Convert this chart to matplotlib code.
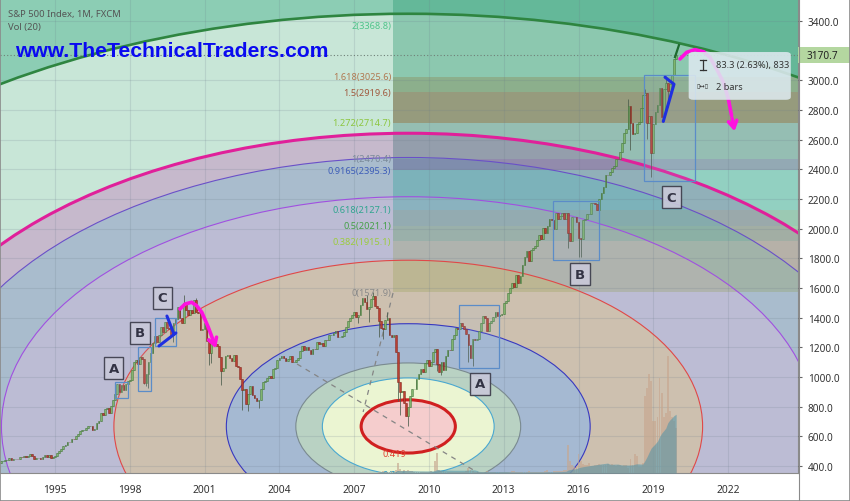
import matplotlib
matplotlib.use('Agg')
from matplotlib import pyplot as plt
from matplotlib.patches import Ellipse, Rectangle, FancyBboxPatch
from matplotlib.lines import Line2D
from matplotlib.transforms import blended_transform_factory
import pandas as pd

# monthly S&P 500 closes, first bar Nov 1992
FIRST_MONTH = '1992-11'
FIRST_OPEN = 418.7
CLOSES = [
    431.35, 435.71,
    438.78, 443.38, 451.67, 440.19, 450.19, 450.53, 448.13, 463.56, 458.93, 467.83, 461.79, 466.45,
    481.61, 467.14, 445.77, 450.91, 456.50, 444.27, 458.26, 475.49, 462.69, 472.35, 453.69, 459.27,
    470.42, 487.39, 500.71, 514.71, 533.40, 544.75, 562.06, 561.88, 584.41, 581.50, 605.37, 615.93,
    636.02, 640.43, 645.50, 654.17, 669.12, 670.63, 639.95, 651.99, 687.31, 705.27, 757.02, 740.74,
    786.16, 790.82, 757.12, 801.34, 848.28, 885.14, 954.29, 899.47, 947.28, 914.62, 955.40, 970.43,
    980.28, 1049.34, 1101.75, 1111.75, 1090.82, 1133.84, 1120.67, 957.28, 1017.01, 1098.67, 1163.63, 1229.23,
    1279.64, 1238.33, 1286.37, 1335.18, 1301.84, 1372.71, 1328.72, 1320.41, 1282.71, 1362.93, 1388.91, 1469.25,
    1394.46, 1366.42, 1498.58, 1452.43, 1420.60, 1454.60, 1430.83, 1517.68, 1436.51, 1429.40, 1314.95, 1320.28,
    1366.01, 1239.94, 1160.33, 1249.46, 1255.82, 1224.38, 1211.23, 1133.58, 1040.94, 1059.78, 1139.45, 1148.08,
    1130.20, 1106.73, 1147.39, 1076.92, 1067.14, 989.82, 911.62, 916.07, 815.28, 885.76, 936.31, 879.82,
    855.70, 841.15, 848.18, 916.92, 963.59, 974.50, 990.31, 1008.01, 995.97, 1050.71, 1058.20, 1111.92,
    1131.13, 1144.94, 1126.21, 1107.30, 1120.68, 1140.84, 1101.72, 1104.24, 1114.58, 1130.20, 1173.82, 1211.92,
    1181.27, 1203.60, 1180.59, 1156.85, 1191.50, 1191.33, 1234.18, 1220.33, 1228.81, 1207.01, 1249.48, 1248.29,
    1280.08, 1280.66, 1294.83, 1310.61, 1270.09, 1270.20, 1276.66, 1303.82, 1335.85, 1377.94, 1400.63, 1418.30,
    1438.24, 1406.82, 1420.86, 1482.37, 1530.62, 1503.35, 1455.27, 1473.99, 1526.75, 1549.38, 1481.14, 1468.36,
    1378.55, 1330.63, 1322.70, 1385.59, 1400.38, 1280.00, 1267.38, 1282.83, 1166.36, 968.75, 896.24, 903.25,
    825.88, 735.09, 797.87, 872.81, 919.14, 919.32, 987.48, 1020.62, 1057.08, 1036.19, 1095.63, 1115.10,
    1073.87, 1104.49, 1169.43, 1186.69, 1089.41, 1030.71, 1101.60, 1049.33, 1141.20, 1183.26, 1180.55, 1257.64,
    1286.12, 1327.22, 1325.83, 1363.61, 1345.20, 1320.64, 1292.28, 1218.89, 1131.42, 1253.30, 1246.96, 1257.60,
    1312.41, 1365.68, 1408.47, 1397.91, 1310.33, 1362.16, 1379.32, 1406.58, 1440.67, 1412.16, 1416.18, 1426.19,
    1498.11, 1514.68, 1569.19, 1597.57, 1630.74, 1606.28, 1685.73, 1632.97, 1681.55, 1756.54, 1805.81, 1848.36,
    1782.59, 1859.45, 1872.34, 1883.95, 1923.57, 1960.23, 1930.67, 2003.37, 1972.29, 2018.05, 2067.56, 2058.90,
    1994.99, 2104.50, 2067.89, 2085.51, 2107.39, 2063.11, 2103.84, 1972.18, 1920.03, 2079.36, 2080.41, 2043.94,
    1940.24, 1932.23, 2059.74, 2065.30, 2096.95, 2098.86, 2173.60, 2170.95, 2168.27, 2126.15, 2198.81, 2238.83,
    2278.87, 2363.64, 2362.72, 2384.20, 2411.80, 2423.41, 2470.30, 2471.65, 2519.36, 2575.26, 2647.58, 2673.61,
    2823.81, 2713.83, 2640.87, 2648.05, 2705.27, 2718.37, 2816.29, 2901.52, 2913.98, 2711.74, 2760.17, 2506.85,
    2704.10, 2784.49, 2834.40, 2945.83, 2752.06, 2941.76, 2980.38, 2926.46, 2976.74, 3037.56, 3140.98, 3170.70,
]
# wick extremes for the months where they stand out
LOWS = {
    '1998-08': 953.0, '1998-09': 940.0, '1998-10': 923.3, '1999-10': 1233.7,
    '2001-03': 1081.2, '2001-04': 1092.0, '2001-09': 944.8, '2002-07': 775.7,
    '2002-10': 768.6, '2003-03': 788.9, '2007-03': 1364.0, '2007-08': 1370.6,
    '2008-01': 1270.0, '2008-03': 1257.0, '2008-10': 839.8, '2008-11': 741.0,
    '2009-03': 666.8, '2010-05': 1040.8, '2010-07': 1010.9, '2011-08': 1101.5,
    '2011-10': 1074.8, '2015-08': 1867.0, '2016-01': 1812.3, '2016-02': 1810.1,
    '2018-02': 2532.7, '2018-10': 2603.5, '2018-12': 2346.6, '2019-05': 2750.5,
    '2019-06': 2728.8, '2019-08': 2822.1,
}
HIGHS = {
    '2000-01': 1478.0, '2000-03': 1552.9, '2000-09': 1530.1, '2007-07': 1555.9,
    '2007-10': 1576.1, '2008-05': 1440.2, '2018-01': 2872.9, '2018-09': 2940.9,
    '2019-04': 2949.5, '2019-07': 3028.0,
}
LAST_PRICE = 3170.7

# volume (FXCM), monthly from Jan 2008
VOL_FIRST_MONTH = '2008-01'
VOLUMES = [
    10, 10, 20, 10, 10, 10, 20, 10, 30, 100, 40, 20,
    30, 20, 30, 20, 20, 10, 10, 10, 10, 10, 10, 10,
    10, 20, 10, 120, 200, 30, 20, 20, 10, 10, 10, 10,
    10, 10, 10, 10, 10, 10, 20, 50, 30, 20, 10, 10,
    10, 10, 10, 10, 20, 10, 10, 10, 10, 10, 10, 10,
    10, 10, 10, 10, 20, 20, 10, 10, 10, 10, 10, 10,
    20, 10, 10, 10, 10, 10, 10, 10, 20, 30, 10, 10,
    20, 20, 20, 20, 20, 30, 30, 280, 120, 80, 60, 70,
    190, 120, 90, 80, 80, 100, 70, 70, 80, 80, 90, 80,
    80, 80, 90, 80, 90, 80, 70, 80, 80, 70, 80, 80,
    50, 140, 80, 190, 170, 60, 60, 100, 770, 850, 990, 920,
    520, 520, 560, 950, 800, 560, 600, 1170, 620, 560, 520, 450,
]

# fib circles around the 2009 low
CIRCLE_CENTER = (2009.17, 666.8)
CIRCLE_RX = 4.51      # years at level 1
CIRCLE_RY = 428.0     # points at level 1
CIRCLE_LEVELS = [6.5, 4.618, 4.236, 3.618, 2.618, 1.618, 1.0, 0.764, 0.419]
CIRCLE_FILLS = ['#c8e6d7', '#c6b9cc', '#a9bccd', '#bcbcd4', '#cdc0af',
                '#a5b9d2', '#b9d2c3', '#ebf5d2', '#f5cdcd']
CIRCLE_EDGES = ['#2e8540', '#e0209a', '#6a50c8', '#a050e0', '#e04848',
                '#3838c0', '#7a8a90', '#4aa8d0', '#d02020']
CIRCLE_WIDTHS = [1.9, 2.2, 0.8, 0.8, 0.8, 0.8, 0.8, 0.8, 2.2]
OUTSIDE_FILL = '#8ccdb4'

# fib extension levels
FIB_START = 2008.56
FIB_LABELS = ['0(1571.9)', '0.382(1915.1)', '0.5(2021.1)', '0.618(2127.1)',
              '0.9165(2395.3)', '1(2470.4)', '1.272(2714.7)', '1.5(2919.6)',
              '1.618(3025.6)', '2(3368.8)']
FIB_PRICES = [1571.9, 1915.1, 2021.1, 2127.1, 2395.3, 2470.4, 2714.7,
              2919.6, 3025.6, 3368.8]
FIB_TEXT_COLORS = ['#8a8a8a', '#9ccc3c', '#43a047', '#2fa58f', '#3d5db8',
                   '#7a8a9a', '#8cc63f', '#a0583c', '#b07850', '#4fc48a']
FIB_BAND_COLORS = ['#8a9a40', '#248818', '#298058', '#179e8f', '#323773',
                   '#216262', '#5a4010', '#1d4901', '#1d9065', '#1c9268']
FIB_BAND_ALPHAS = [0.25, 0.22, 0.28, 0.3, 0.35, 0.3, 0.45, 0.35, 0.35, 0.35]

# wave markup
WAVE_BOXES = [(1997.41, 1997.93, 858, 966), (1998.33, 1998.85, 906, 1202),
              (1999.01, 1999.85, 1209, 1398), (2011.21, 2012.81, 1061, 1485),
              (2014.98, 2016.82, 1789, 2187), (2018.63, 2020.67, 2321, 3036)]
WAVE_LETTERS = ['A', 'B', 'C', 'A', 'B', 'C']
LETTER_X = [1997.35, 1998.41, 1999.31, 2012.05, 2016.06, 2019.73]
LETTER_Y = [1060, 1297, 1533, 953, 1694, 2213]

BLUE_STROKES = [
    ([1999.49, 1999.77], [1411, 1290]),
    ([1999.17, 1999.85], [1209, 1297]),
    ([2019.47, 2019.83, 2019.40], [3021, 2974, 2723]),
]
MAGENTA_PATHS = [
    ([2000.01, 2000.22, 2000.48, 2000.68, 2000.89, 2001.15, 2001.35, 2001.49],
     [1458, 1492, 1504, 1481, 1436, 1335, 1245, 1175]),
    ([2020.07, 2020.34, 2020.67, 2021.01, 2021.27, 2021.54, 2021.81, 2022.01,
      2022.14, 2022.28],
     [3144, 3189, 3207, 3193, 3155, 3076, 2987, 2874, 2762, 2638]),
]
MEASURE_LINE = ([2019.87, 2020.03], [3157, 3238])
DASHED_LINES = [([2004.71, 2012.45], [1087.6, 305.6]),
                ([2008.56, 2007.36], [1566.3, 764.0])]

YEAR_TICKS = list(range(1995, 2023, 3))
PRICE_TICKS = list(range(400, 3001, 200)) + [3400]

UI_FONT = 'Noto Sans'
TEXT_GREY = '#333333'


def to_year(stamps):
    return stamps.year + (stamps.month - 1) / 12.0


dates = pd.date_range(FIRST_MONTH, periods=len(CLOSES), freq='MS')
t = to_year(dates)
closes = pd.Series(CLOSES, index=dates)
opens = closes.shift(1).fillna(FIRST_OPEN)
keys = dates.strftime('%Y-%m')
highs = [max(o, c, HIGHS.get(k, 0)) for o, c, k in zip(opens, closes, keys)]
lows = [min(o, c, LOWS.get(k, 1e9)) for o, c, k in zip(opens, closes, keys)]
up = (closes >= opens).values

vol_dates = pd.date_range(VOL_FIRST_MONTH, periods=len(VOLUMES), freq='MS')
vt = to_year(vol_dates)
vol_ma = pd.Series(VOLUMES).rolling(20, min_periods=1).mean()

fig = plt.figure(figsize=(8.5, 5.02), dpi=100)
fig.patch.set_facecolor('white')
ax = fig.add_axes([0, 28 / 502, 798 / 850, 473 / 502])
ax.set_xlim(1992.794, 2024.804)
ax.set_ylim(352.8, 3541.6)
ax.set_facecolor(OUTSIDE_FILL)
ax.set_axisbelow(False)

cx, cy = CIRCLE_CENTER
for i, lvl in enumerate(CIRCLE_LEVELS):
    ax.add_patch(Ellipse((cx, cy), 2 * CIRCLE_RX * lvl, 2 * CIRCLE_RY * lvl,
                         facecolor=CIRCLE_FILLS[i], edgecolor='none',
                         zorder=1 + i * 0.01))
    ax.add_patch(Ellipse((cx, cy), 2 * CIRCLE_RX * lvl, 2 * CIRCLE_RY * lvl,
                         fill=False, edgecolor=CIRCLE_EDGES[i],
                         linewidth=CIRCLE_WIDTHS[i], zorder=2.8))

# horizontal fib bands (last one runs to the top of the chart)
band_tops = FIB_PRICES[1:] + [ax.get_ylim()[1]]
for lo, hi, col, a in zip(FIB_PRICES, band_tops, FIB_BAND_COLORS, FIB_BAND_ALPHAS):
    ax.add_patch(Rectangle((FIB_START, lo), 30, hi - lo, facecolor=col,
                           alpha=a, edgecolor='none', zorder=1.5))
for lab, p, col in zip(FIB_LABELS, FIB_PRICES, FIB_TEXT_COLORS):
    ax.text(FIB_START - 0.08, p, lab, ha='right', va='center', fontsize=6.6,
            color=col, family=UI_FONT, zorder=5)

for lvl, col in [(0.419, '#e04030'), (0.764, '#2090c0')]:
    ax.text(cx - 0.56, cy - CIRCLE_RY * lvl, str(lvl), ha='center',
            va='center', fontsize=6.6, color=col, family=UI_FONT, zorder=5,
            clip_on=True)

for xs, ys in DASHED_LINES:
    ax.plot(xs, ys, color='#858585', lw=0.9, dashes=(4, 4), zorder=2.9)

ax.grid(True, color='#6a7a8a', alpha=0.18, lw=0.8)

# candles
ax.vlines(t, lows, highs, color='#4d5d4d', lw=0.7, alpha=0.8, zorder=3)
ax.bar(t[up], (closes - opens)[up], bottom=opens[up], width=0.068,
       color='#86c070', edgecolor='#3b6e33', linewidth=0.4, alpha=0.85,
       zorder=3.1)
ax.bar(t[~up], (closes - opens)[~up], bottom=opens[~up], width=0.068,
       color='#c8382a', edgecolor='#7a1f17', linewidth=0.4, alpha=0.85,
       zorder=3.1)

ax.axhline(LAST_PRICE, color='#6f7f77', lw=0.8, ls=(0, (1, 2)), zorder=3.2)

for (x0, x1, p0, p1) in WAVE_BOXES:
    ax.add_patch(Rectangle((x0, p0), x1 - x0, p1 - p0, facecolor='#9fb8e0',
                           alpha=0.12, edgecolor='none', zorder=3.3))
    ax.add_patch(Rectangle((x0, p0), x1 - x0, p1 - p0, fill=False,
                           edgecolor='#5b8cc8', lw=0.9, zorder=3.3))
for letter, x, y in zip(WAVE_LETTERS, LETTER_X, LETTER_Y):
    ax.text(x, y, letter, ha='center', va='center', fontsize=9.5,
            fontweight='bold', color='#333344', zorder=5,
            bbox=dict(boxstyle='square,pad=0.36', facecolor='#c9c9d9',
                      edgecolor='#3a3a48', linewidth=1.0, alpha=0.9))

for xs, ys in BLUE_STROKES:
    ax.plot(xs, ys, color='#1f2fe0', lw=2.2, solid_capstyle='round', zorder=6)
ax.plot(*MEASURE_LINE, color='#1e6b30', lw=1.6, zorder=6)
for xs, ys in MAGENTA_PATHS:
    ax.plot(xs[:-1], ys[:-1], color='#ff10e0', lw=2.6, solid_capstyle='round',
            solid_joinstyle='round', zorder=6)
    ax.annotate('', xy=(xs[-1], ys[-1]), xytext=(xs[-2], ys[-2]),
                arrowprops=dict(arrowstyle='->,head_length=0.5,head_width=0.3',
                                color='#ff10e0', lw=2.6), zorder=6)

# volume overlay
vax = ax.twinx()
vax.set_ylim(0, 4730)
vax.bar(vt, VOLUMES, width=0.075, color='#c7a78f', alpha=0.65, zorder=2)
vax.fill_between(vt, 0, vol_ma, color='#4f93a8', alpha=0.55, lw=0, zorder=3)
vax.set_yticks([])
for s in vax.spines.values():
    s.set_visible(False)

# measurement tooltip
tip = FancyBboxPatch((0.863, 0.789), 0.128, 0.101,
                     boxstyle='round,pad=0,rounding_size=0.006',
                     transform=ax.transAxes, facecolor='#dde9ef',
                     edgecolor='none', alpha=0.88, zorder=7)
ax.add_patch(tip)
ax.plot([0.8808, 0.8808], [0.852, 0.873], color='#333', lw=0.9,
        transform=ax.transAxes, zorder=8)
for yy in (0.852, 0.873):
    ax.plot([0.8772, 0.8844], [yy, yy], color='#333', lw=0.9,
            transform=ax.transAxes, zorder=8)
ax.text(0.8808, 0.818, '▯↔▯', fontsize=4.5, ha='center', va='center',
        color='#333', transform=ax.transAxes, zorder=8)
ax.text(0.897, 0.8626, '83.3 (2.63%), 833', fontsize=6.6, va='center',
        color=TEXT_GREY, family=UI_FONT, transform=ax.transAxes, zorder=8)
ax.text(0.897, 0.818, '2 bars', fontsize=6.6, va='center', color=TEXT_GREY,
        family=UI_FONT, transform=ax.transAxes, zorder=8)

ax.text(0.0188, 0.894, 'www.TheTechnicalTraders.com', fontsize=15.2,
        fontweight='bold', family='Liberation Sans', color='#0a0af0',
        va='center', transform=ax.transAxes, zorder=8)
ax.text(0.01, 0.9725, 'S&P 500 Index, 1M, FXCM', fontsize=6.8,
        color='#555555', family=UI_FONT, va='center', transform=ax.transAxes,
        zorder=8)
ax.text(0.01, 0.945, 'Vol (20)', fontsize=6.8, color='#555555',
        family=UI_FONT, va='center', transform=ax.transAxes, zorder=8)

# axes styling
ax.yaxis.tick_right()
ax.set_yticks(PRICE_TICKS)
ax.set_yticklabels([f'{p:.1f}' for p in PRICE_TICKS])
ax.set_xticks(YEAR_TICKS)
ax.set_xticklabels([str(y) for y in YEAR_TICKS])
ax.tick_params(axis='y', length=3, color='#666', pad=4, labelsize=7.2,
               labelcolor=TEXT_GREY)
ax.tick_params(axis='x', length=0, pad=8, labelsize=7.4, labelcolor=TEXT_GREY)
for lab in ax.get_xticklabels() + ax.get_yticklabels():
    lab.set_family(UI_FONT)
for side in ('top', 'left'):
    ax.spines[side].set_visible(False)
for side in ('right', 'bottom'):
    ax.spines[side].set_color('#8a8a8a')

# last price marker on the scale
trans = blended_transform_factory(ax.transAxes, ax.transData)
ax.add_patch(Rectangle((1.0, LAST_PRICE - 54), 0.066, 108, transform=trans,
                       facecolor='#b4d7a0', edgecolor='none', clip_on=False,
                       zorder=8))
ax.text(1.0105, LAST_PRICE, f'{LAST_PRICE:.1f}', transform=trans,
        fontsize=7.2, va='center', color='#222', family=UI_FONT,
        clip_on=False, zorder=9)

fig.add_artist(Line2D([798.5 / 850] * 2, [0, 1], color='#8a8a8a', lw=0.8))
fig.add_artist(Rectangle((0, 0), 1, 1, fill=False, edgecolor='#8a8a8a',
                         lw=1.2, transform=fig.transFigure))

fig.savefig('out.png', dpi=100)
